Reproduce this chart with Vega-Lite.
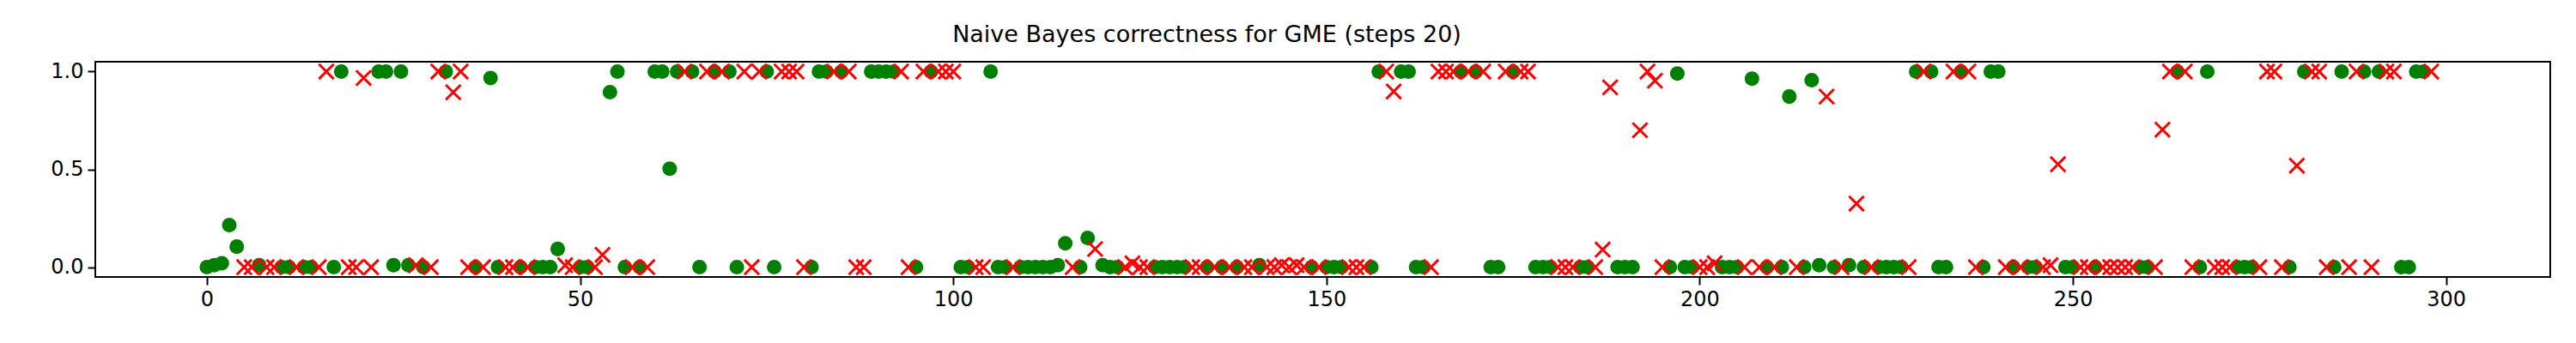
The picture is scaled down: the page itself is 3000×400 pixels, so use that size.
{
"$schema":"https://vega.github.io/schema/vega-lite/v6.json",
"autosize":"none",
"padding":{"left":111,"top":72,"right":30,"bottom":77},
"width":2859,"height":251,
"background":"white",
"title":{"text":"Naive Bayes correctness for GME (steps 20)","font":"DejaVu Sans","fontSize":27,"fontWeight":"normal","color":"black","offset":14,"dx":-135},
"config":{"view":{"stroke":"black","strokeWidth":2},"axis":{"domain":false,"grid":false,"tickColor":"black","tickWidth":2,"tickSize":9,"labelFont":"DejaVu Sans","labelFontSize":24,"labelColor":"black","title":null,"labelPadding":5}},
"data":{"values":[
{"i":0,"y":0,"c":1},{"i":1,"y":0.01,"c":1},{"i":2,"y":0.02,"c":1},{"i":3,"y":0.215,"c":1},{"i":4,"y":0.105,"c":1},{"i":5,"y":0,"c":0},{"i":6,"y":0,"c":0},{"i":7,"y":0.01,"c":1},{"i":8,"y":0,"c":0},{"i":9,"y":0,"c":0},
{"i":10,"y":0,"c":1},{"i":11,"y":0,"c":1},{"i":12,"y":0,"c":0},{"i":13,"y":0,"c":1},{"i":14,"y":0,"c":1},{"i":15,"y":0,"c":0},{"i":16,"y":1,"c":0},{"i":17,"y":0,"c":1},{"i":18,"y":1,"c":1},{"i":19,"y":0,"c":0},
{"i":20,"y":0,"c":0},{"i":21,"y":0.967,"c":0},{"i":22,"y":0,"c":0},{"i":23,"y":1,"c":1},{"i":24,"y":1,"c":1},{"i":25,"y":0.01,"c":1},{"i":26,"y":1,"c":1},{"i":27,"y":0.01,"c":1},{"i":28,"y":0.01,"c":0},{"i":29,"y":0,"c":1},
{"i":30,"y":0,"c":0},{"i":31,"y":1,"c":0},{"i":32,"y":1,"c":1},{"i":33,"y":0.894,"c":0},{"i":34,"y":1,"c":0},{"i":35,"y":0,"c":0},{"i":36,"y":0,"c":1},{"i":37,"y":0,"c":0},{"i":38,"y":0.967,"c":1},{"i":39,"y":0,"c":1},
{"i":40,"y":0,"c":0},{"i":41,"y":0,"c":0},{"i":42,"y":0,"c":1},{"i":43,"y":0,"c":0},{"i":44,"y":0,"c":1},{"i":45,"y":0,"c":1},{"i":46,"y":0,"c":1},{"i":47,"y":0.093,"c":1},{"i":48,"y":0.01,"c":0},{"i":49,"y":0,"c":0},
{"i":50,"y":0,"c":1},{"i":51,"y":0,"c":1},{"i":52,"y":0,"c":0},{"i":53,"y":0.063,"c":0},{"i":54,"y":0.894,"c":1},{"i":55,"y":1,"c":1},{"i":56,"y":0,"c":1},{"i":57,"y":0,"c":0},{"i":58,"y":0,"c":1},{"i":59,"y":0,"c":0},
{"i":60,"y":1,"c":1},{"i":61,"y":1,"c":1},{"i":62,"y":0.503,"c":1},{"i":63,"y":1,"c":1},{"i":64,"y":1,"c":0},{"i":65,"y":1,"c":1},{"i":66,"y":0,"c":1},{"i":67,"y":1,"c":0},{"i":68,"y":1,"c":1},{"i":69,"y":1,"c":0},
{"i":70,"y":1,"c":1},{"i":71,"y":0,"c":1},{"i":72,"y":1,"c":0},{"i":73,"y":0,"c":0},{"i":74,"y":1,"c":0},{"i":75,"y":1,"c":1},{"i":76,"y":0,"c":1},{"i":77,"y":1,"c":0},{"i":78,"y":1,"c":0},{"i":79,"y":1,"c":0},
{"i":80,"y":0,"c":0},{"i":81,"y":0,"c":1},{"i":82,"y":1,"c":1},{"i":83,"y":1,"c":1},{"i":84,"y":1,"c":0},{"i":85,"y":1,"c":1},{"i":86,"y":1,"c":0},{"i":87,"y":0,"c":0},{"i":88,"y":0,"c":0},{"i":89,"y":1,"c":1},
{"i":90,"y":1,"c":1},{"i":91,"y":1,"c":1},{"i":92,"y":1,"c":1},{"i":93,"y":1,"c":0},{"i":94,"y":0,"c":0},{"i":95,"y":0,"c":1},{"i":96,"y":1,"c":0},{"i":97,"y":1,"c":1},{"i":98,"y":1,"c":0},{"i":99,"y":1,"c":0},
{"i":100,"y":1,"c":0},{"i":101,"y":0,"c":1},{"i":102,"y":0,"c":1},{"i":103,"y":0,"c":0},{"i":104,"y":0,"c":0},{"i":105,"y":1,"c":1},{"i":106,"y":0,"c":1},{"i":107,"y":0,"c":1},{"i":108,"y":0,"c":0},{"i":109,"y":0,"c":1},
{"i":110,"y":0,"c":1},{"i":111,"y":0,"c":1},{"i":112,"y":0,"c":1},{"i":113,"y":0,"c":1},{"i":114,"y":0.01,"c":1},{"i":115,"y":0.122,"c":1},{"i":116,"y":0,"c":0},{"i":117,"y":0,"c":1},{"i":118,"y":0.149,"c":1},{"i":119,"y":0.093,"c":0},
{"i":120,"y":0.01,"c":1},{"i":121,"y":0,"c":1},{"i":122,"y":0,"c":1},{"i":123,"y":0,"c":0},{"i":124,"y":0.02,"c":0},{"i":125,"y":0,"c":0},{"i":126,"y":0,"c":0},{"i":127,"y":0,"c":1},{"i":128,"y":0,"c":1},{"i":129,"y":0,"c":1},
{"i":130,"y":0,"c":1},{"i":131,"y":0,"c":1},{"i":132,"y":0,"c":0},{"i":133,"y":0,"c":0},{"i":134,"y":0,"c":1},{"i":135,"y":0,"c":0},{"i":136,"y":0,"c":1},{"i":137,"y":0,"c":0},{"i":138,"y":0,"c":1},{"i":139,"y":0,"c":0},
{"i":140,"y":0,"c":0},{"i":141,"y":0.01,"c":1},{"i":142,"y":0,"c":0},{"i":143,"y":0,"c":0},{"i":144,"y":0.01,"c":0},{"i":145,"y":0,"c":0},{"i":146,"y":0.01,"c":0},{"i":147,"y":0,"c":0},{"i":148,"y":0,"c":1},{"i":149,"y":0,"c":0},
{"i":150,"y":0,"c":1},{"i":151,"y":0,"c":1},{"i":152,"y":0,"c":1},{"i":153,"y":0,"c":0},{"i":154,"y":0,"c":0},{"i":155,"y":0,"c":0},{"i":156,"y":0,"c":1},{"i":157,"y":1,"c":1},{"i":158,"y":1,"c":0},{"i":159,"y":0.898,"c":0},
{"i":160,"y":1,"c":1},{"i":161,"y":1,"c":1},{"i":162,"y":0,"c":1},{"i":163,"y":0,"c":1},{"i":164,"y":0,"c":0},{"i":165,"y":1,"c":0},{"i":166,"y":1,"c":0},{"i":167,"y":1,"c":0},{"i":168,"y":1,"c":1},{"i":169,"y":1,"c":0},
{"i":170,"y":1,"c":1},{"i":171,"y":1,"c":0},{"i":172,"y":0,"c":1},{"i":173,"y":0,"c":1},{"i":174,"y":1,"c":0},{"i":175,"y":1,"c":1},{"i":176,"y":1,"c":0},{"i":177,"y":1,"c":0},{"i":178,"y":0,"c":1},{"i":179,"y":0,"c":1},
{"i":180,"y":0,"c":1},{"i":181,"y":0,"c":0},{"i":182,"y":0,"c":0},{"i":183,"y":0,"c":0},{"i":184,"y":0,"c":1},{"i":185,"y":0,"c":1},{"i":186,"y":0,"c":0},{"i":187,"y":0.09,"c":0},{"i":188,"y":0.919,"c":0},{"i":189,"y":0,"c":1},
{"i":190,"y":0,"c":1},{"i":191,"y":0,"c":1},{"i":192,"y":0.70,"c":0},{"i":193,"y":1,"c":0},{"i":194,"y":0.953,"c":0},{"i":195,"y":0,"c":0},{"i":196,"y":0,"c":1},{"i":197,"y":0.99,"c":1},{"i":198,"y":0,"c":1},{"i":199,"y":0,"c":1},
{"i":200,"y":0,"c":0},{"i":201,"y":0,"c":0},{"i":202,"y":0.02,"c":0},{"i":203,"y":0,"c":1},{"i":204,"y":0,"c":1},{"i":205,"y":0,"c":1},{"i":206,"y":0,"c":0},{"i":207,"y":0.963,"c":1},{"i":208,"y":0,"c":0},{"i":209,"y":0,"c":1},
{"i":210,"y":0,"c":0},{"i":211,"y":0,"c":1},{"i":212,"y":0.872,"c":1},{"i":213,"y":0,"c":0},{"i":214,"y":0,"c":1},{"i":215,"y":0.956,"c":1},{"i":216,"y":0.01,"c":1},{"i":217,"y":0.872,"c":0},{"i":218,"y":0,"c":1},{"i":219,"y":0,"c":0},
{"i":220,"y":0.01,"c":1},{"i":221,"y":0.325,"c":0},{"i":222,"y":0,"c":1},{"i":223,"y":0,"c":0},{"i":224,"y":0,"c":1},{"i":225,"y":0,"c":1},{"i":226,"y":0,"c":1},{"i":227,"y":0,"c":1},{"i":228,"y":0,"c":0},{"i":229,"y":1,"c":1},
{"i":230,"y":1,"c":0},{"i":231,"y":1,"c":1},{"i":232,"y":0,"c":1},{"i":233,"y":0,"c":1},{"i":234,"y":1,"c":0},{"i":235,"y":1,"c":1},{"i":236,"y":1,"c":0},{"i":237,"y":0,"c":0},{"i":238,"y":0,"c":1},{"i":239,"y":1,"c":1},
{"i":240,"y":1,"c":1},{"i":241,"y":0,"c":0},{"i":242,"y":0,"c":1},{"i":243,"y":0,"c":0},{"i":244,"y":0,"c":1},{"i":245,"y":0,"c":1},{"i":246,"y":0,"c":0},{"i":247,"y":0.01,"c":0},{"i":248,"y":0.526,"c":0},{"i":249,"y":0,"c":1},
{"i":250,"y":0,"c":1},{"i":251,"y":0,"c":0},{"i":252,"y":0,"c":0},{"i":253,"y":0,"c":1},{"i":254,"y":0,"c":0},{"i":255,"y":0,"c":0},{"i":256,"y":0,"c":0},{"i":257,"y":0,"c":0},{"i":258,"y":0,"c":0},{"i":259,"y":0,"c":1},
{"i":260,"y":0,"c":1},{"i":261,"y":0,"c":0},{"i":262,"y":0.703,"c":0},{"i":263,"y":1,"c":0},{"i":264,"y":1,"c":1},{"i":265,"y":1,"c":0},{"i":266,"y":0,"c":0},{"i":267,"y":0,"c":1},{"i":268,"y":1,"c":1},{"i":269,"y":0,"c":0},
{"i":270,"y":0,"c":0},{"i":271,"y":0,"c":0},{"i":272,"y":0,"c":1},{"i":273,"y":0,"c":1},{"i":274,"y":0,"c":1},{"i":275,"y":0,"c":0},{"i":276,"y":1,"c":0},{"i":277,"y":1,"c":0},{"i":278,"y":0,"c":0},{"i":279,"y":0,"c":1},
{"i":280,"y":0.519,"c":0},{"i":281,"y":1,"c":1},{"i":282,"y":1,"c":0},{"i":283,"y":1,"c":0},{"i":284,"y":0,"c":0},{"i":285,"y":0,"c":1},{"i":286,"y":1,"c":1},{"i":287,"y":0,"c":0},{"i":288,"y":1,"c":0},{"i":289,"y":1,"c":1},
{"i":290,"y":0,"c":0},{"i":291,"y":1,"c":1},{"i":292,"y":1,"c":0},{"i":293,"y":1,"c":0},{"i":294,"y":0,"c":1},{"i":295,"y":0,"c":1},{"i":296,"y":1,"c":1},{"i":297,"y":1,"c":1},{"i":298,"y":1,"c":0}
]},
"encoding":{
"x":{"field":"i","type":"quantitative","scale":{"domain":[-14.95,313.95],"nice":false,"zero":false},"axis":{"values":[0,50,100,150,200,250,300]}},
"y":{"field":"y","type":"quantitative","scale":{"domain":[-0.05,1.05],"nice":false},"axis":{"values":[0,0.5,1],"format":".1f"}}
},
"layer":[
{"transform":[{"filter":"datum.c==1"}],"mark":{"type":"point","shape":"circle","filled":true,"color":"green","opacity":1,"size":290}},
{"transform":[{"filter":"datum.c==0"}],"mark":{"type":"point","shape":"M-1,-1L1,1M-1,1L1,-1","filled":false,"color":"red","opacity":1,"strokeWidth":3,"size":300}}
]
}
